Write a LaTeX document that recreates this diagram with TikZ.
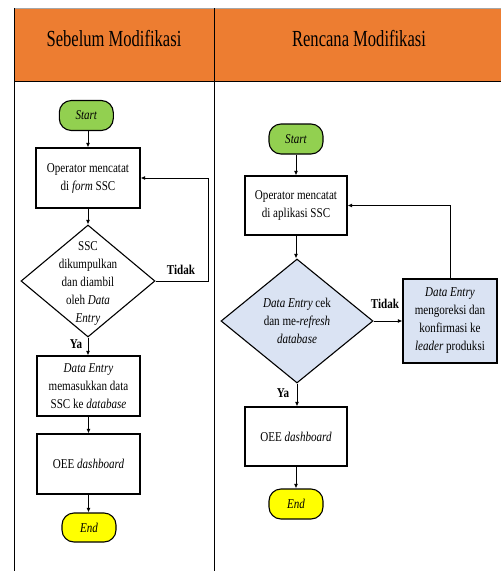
\documentclass[tikz,border=0pt]{standalone}
\usepackage{fontspec}
\setmainfont{Liberation Serif}
\newfontfamily\bodyf[FakeStretch=0.82]{Liberation Serif}
\newfontfamily\headf[FakeStretch=0.72]{Liberation Serif}
\usetikzlibrary{shapes.geometric,arrows.meta}
\definecolor{hdr}{HTML}{ED7D31}
\definecolor{startg}{HTML}{92D050}
\definecolor{endy}{HTML}{FFFF00}
\definecolor{lblue}{HTML}{DAE3F3}
\tikzset{
  txt/.style={font=\bodyf\fontsize{13.5}{18}\selectfont, align=center, inner sep=0pt},
  procbox/.style={draw=black, line width=1.1pt, rectangle, inner sep=0pt, txt},
  term/.style={draw=black, line width=1.1pt, rectangle, rounded corners=12pt, minimum width=54pt, minimum height=30pt, inner sep=0pt, txt},
  decis/.style={draw=black, line width=1.1pt, diamond, inner sep=0pt},
  flow/.style={line width=1pt, -{Latex[length=4.5pt,width=4pt]}},
  lbl/.style={font=\bodyf\bfseries\fontsize{13.5}{16}\selectfont, inner sep=0pt},
  head/.style={font=\headf\fontsize{23}{26}\selectfont, inner sep=0pt},
  tline/.style={line width=1pt, draw=black}
}
\begin{document}
\begin{tikzpicture}[x=1pt,y=-1pt]
\useasboundingbox (0,0) rectangle (501,571);
% table
\fill[hdr] (14.7,8) rectangle (501,81);
\draw[line width=1pt, draw=gray!70] (14.7,8) -- (501,8);
\draw[tline] (14.7,8) -- (14.7,571);
\draw[tline] (214,8) -- (214,571);
\draw[tline] (14.7,81) -- (501,81);
\node[head] (h1) at (114,39) {Sebelum Modifikasi};
\node[head] (h2) at (359,39) {Rencana Modifikasi};

% left flow
\node[term, fill=startg] (s1) at (86.3,115.5) {\itshape Start};
\node[procbox, minimum width=104pt, minimum height=60pt] (b1) at (88,178) {Operator mencatat\\di \textit{form} SSC};
\node[decis, minimum width=134pt, minimum height=112pt] (d1) at (88,281) {};
\node[txt] (d1t) at (88,283) {SSC\\dikumpulkan\\dan diambil\\oleh \textit{Data}\\\textit{Entry}};
\node[procbox, minimum width=103pt, minimum height=60pt] (b2) at (88.5,386) {\textit{Data Entry}\\memasukkan data\\SSC ke \textit{database}};
\node[procbox, minimum width=103pt, minimum height=60pt] (b3) at (88.5,464) {OEE \textit{dashboard}};
\node[term, fill=endy, minimum height=29pt] (e1) at (89,527.5) {\itshape End};
\coordinate (c1) at (208,281);
\draw[flow] (b1.north |- s1.south) -- (b1.north);
\draw[flow] (b1.south) -- (d1.north);
\draw[flow] (d1.south) -- (d1.south |- b2.north);
\draw[flow] (b2.south) -- (b2.south |- b3.north);
\draw[flow] (b3.south) -- (b3.south |- e1.north);
\draw[flow] (d1.east) -- (c1) |- (b1.east);
\node[lbl] (t1) at (181,270) {Tidak};
\node[lbl] (y1) at (76,344) {Ya};

% right flow
\node[term, fill=startg] (s2) at (296,139) {\itshape Start};
\node[procbox, minimum width=102pt, minimum height=59pt] (b4) at (296,205.5) {Operator mencatat\\di aplikasi SSC};
\node[decis, fill=lblue, minimum width=152pt, minimum height=124pt] (d2) at (297,321) {};
\node[txt] (d2t) at (297,321) {\textit{Data Entry} cek\\dan me-\textit{refresh}\\\textit{database}};
\node[procbox, fill=lblue, minimum width=94pt, minimum height=84pt] (b6) at (450,321) {\textit{Data Entry}\\mengoreksi dan\\konfirmasi ke\\\textit{leader} produksi};
\node[procbox, minimum width=102pt, minimum height=59pt] (b5) at (296,436.5) {OEE \textit{dashboard}};
\node[term, fill=endy] (e2) at (296,504) {\itshape End};
\draw[flow] (s2.south) -- (b4.north);
\draw[flow] (b4.south) -- (b4.south |- d2.north);
\draw[flow] (d2.east) -- (b6.west);
\draw[flow] (b6.north) |- (b4.east);
\draw[flow] (d2.south) -- (d2.south |- b5.north);
\draw[flow] (b5.south) -- (e2.north);
\node[lbl] (t2) at (385,304) {Tidak};
\node[lbl] (y2) at (283,393) {Ya};
\end{tikzpicture}
\end{document}
